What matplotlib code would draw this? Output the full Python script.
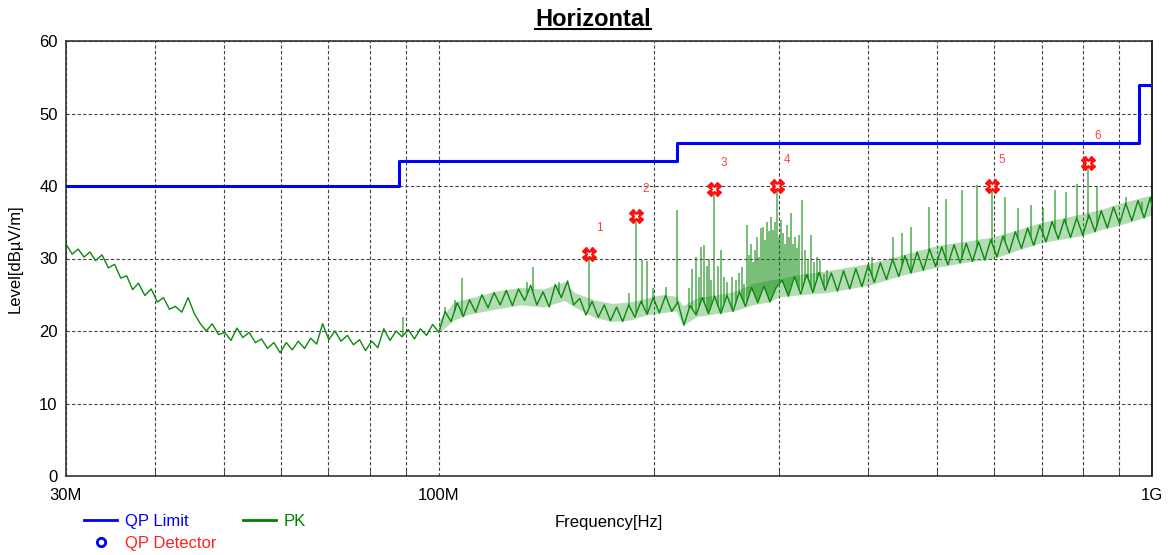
import numpy as np
import matplotlib
matplotlib.use("Agg")
import matplotlib.pyplot as plt
from matplotlib.lines import Line2D
from matplotlib.ticker import NullFormatter

plt.rcParams['font.family'] = ['Liberation Sans', 'DejaVu Sans']

# PK trace (MHz, dBuV/m), in three pieces
pk_freq_a = [30.0, 30.6, 31.2, 31.8, 32.4, 33.0, 33.7, 34.4, 35.1, 35.8,
             36.5, 37.2, 37.9, 38.7, 39.5, 40.3, 41.1, 41.9, 42.7, 43.6,
             44.5, 45.4, 46.3, 47.2, 48.1, 49.1, 50.1, 51.1, 52.1, 53.1,
             54.2, 55.3, 56.4, 57.5, 58.7, 59.9, 61.1, 62.3, 63.5, 64.8,
             66.1, 67.4, 68.7, 70.1, 71.5, 72.9, 74.4, 75.9, 77.4, 78.9,
             80.5, 82.1, 83.7, 85.4, 87.1, 88.8, 90.6, 92.4, 94.2, 96.1,
             98.0, 100.0]
pk_level_a = [32.0, 30.6, 31.3, 30.2, 30.9, 29.7, 30.5, 28.7, 29.2, 27.3,
              27.6, 25.7, 26.6, 24.9, 25.8, 24.0, 24.6, 23.0, 23.4, 22.6,
              24.6, 22.4, 21.0, 20.0, 21.0, 19.5, 19.8, 18.7, 20.4, 19.1,
              19.8, 18.4, 18.9, 17.6, 18.4, 17.0, 18.4, 17.4, 18.6, 17.6,
              19.0, 18.2, 21.0, 18.8, 20.0, 18.6, 19.4, 18.1, 18.8, 17.3,
              18.6, 17.7, 20.3, 18.7, 20.0, 19.2, 20.2, 18.9, 20.3, 19.4,
              20.9, 19.8]

pk_freq_b = [102.0, 104.0, 106.1, 108.2, 110.4, 112.6, 114.9, 117.2, 119.5, 121.9,
             124.3, 126.8, 129.3, 131.9, 134.5, 137.2, 140.0, 142.8, 145.6, 148.5,
             151.5, 154.5, 157.6, 160.8, 164.0, 167.3, 170.6, 174.0, 177.5, 181.0,
             184.6, 188.3, 192.1, 195.9, 199.8, 203.8, 207.9, 212.1, 216.3, 220.6,
             225.0, 229.5, 234.1, 238.8, 243.6, 248.5, 253.5, 258.6, 263.8, 269.1,
             274.5, 280.0, 285.6, 291.3, 297.1]
pk_level_b = [22.7, 21.3, 23.9, 22.0, 24.3, 22.6, 25.0, 23.2, 25.3, 23.6,
              25.6, 23.5, 25.8, 24.2, 26.3, 23.6, 25.4, 23.3, 26.4, 24.6,
              26.9, 23.6, 24.5, 22.2, 24.1, 21.9, 23.6, 21.4, 23.3, 21.3,
              23.6, 21.9, 24.1, 22.3, 24.6, 22.5, 24.9, 22.7, 24.0, 20.8,
              23.5, 22.2, 24.6, 22.4, 24.8, 22.4, 24.9, 22.7, 25.4, 23.4,
              26.0, 23.9, 26.2, 24.0, 26.0]

pk_freq_c = [303.0, 309.1, 315.3, 321.6, 328.0, 334.6, 341.3, 348.1, 355.1, 362.2,
             369.4, 376.8, 384.3, 392.0, 399.9, 407.9, 416.0, 424.3, 432.8, 441.5,
             450.3, 459.3, 468.5, 477.9, 487.5, 497.2, 507.2, 517.3, 527.7, 538.2,
             549.0, 560.0, 571.2, 582.6, 594.2, 606.1, 618.2, 630.6, 643.2, 656.1,
             669.2, 682.6, 696.2, 710.1, 724.3, 738.8, 753.6, 768.7, 784.1, 799.8,
             815.8, 832.1, 848.7, 865.7, 883.0, 900.7, 918.7, 937.1, 955.8, 974.9,
             994.4, 1000.0]
pk_level_c = [27.0, 24.8, 27.5, 25.1, 27.8, 25.3, 28.1, 25.6, 28.0, 25.5,
              28.3, 25.8, 28.6, 26.1, 29.1, 26.7, 29.4, 27.1, 29.9, 27.5,
              30.4, 28.0, 30.9, 28.4, 31.3, 28.9, 31.6, 29.1, 31.9, 29.4,
              32.1, 29.6, 32.3, 29.8, 32.6, 30.2, 33.1, 30.8, 33.7, 31.4,
              34.2, 31.8, 34.6, 32.3, 35.1, 32.7, 35.4, 32.9, 35.6, 33.2,
              36.0, 33.7, 36.6, 34.2, 37.1, 34.8, 37.6, 35.2, 38.0, 35.6,
              38.4, 37.2]

# spread of the noisy PK band above 100 MHz (lower / upper edge)
band_freq = [100, 105, 110, 120, 130, 140, 150, 155, 165, 175,
             185, 195, 205, 215, 220, 230, 245, 260, 275, 290,
             300, 320, 350, 400, 450, 500, 550, 600, 650, 700,
             750, 800, 850, 900, 950, 1000]
band_low = [19.8, 21.5, 22.3, 23.0, 23.6, 23.3, 24.2, 23.3, 21.9, 21.3,
            21.5, 22.2, 22.5, 22.8, 20.8, 22.0, 22.4, 22.8, 23.6, 24.0,
            24.7, 25.0, 25.3, 26.3, 27.8, 28.8, 29.5, 30.0, 31.2, 32.2,
            32.7, 33.2, 34.0, 34.6, 35.3, 36.0]
band_high = [21.5, 24.0, 24.5, 25.5, 26.0, 25.8, 26.8, 25.3, 24.3, 23.8,
             24.0, 24.5, 25.0, 24.8, 23.5, 24.6, 25.0, 25.5, 26.5, 27.0,
             27.2, 27.8, 28.3, 29.3, 30.6, 31.8, 32.4, 33.0, 34.0, 35.0,
             35.6, 36.2, 36.8, 37.6, 38.2, 38.8]

# narrow spikes on top of the trace (MHz, peak dBuV/m)
spike_freq = [89.0, 101.9, 105.2, 107.9, 133.1, 135.3, 147.6, 151.0, 162.6, 185.0,
              189.2, 192.9, 196.0, 199.8, 208.4, 215.9, 224.4, 226.6, 229.6, 231.8,
              233.3, 235.6, 237.9, 239.4, 241.0, 243.3, 246.5, 248.9, 251.3, 253.7,
              257.8, 261.2, 263.7, 266.3, 268.0, 270.6, 272.3, 274.1, 275.9, 277.7,
              279.5, 281.3, 283.1, 284.9, 286.8, 288.6, 290.5, 292.4, 294.3, 296.2,
              298.1, 300.0, 301.9, 303.9, 305.9, 307.9, 309.9, 311.9, 313.9, 315.9,
              317.9, 320.0, 323.2, 326.2, 329.4, 332.6, 335.8, 339.1, 342.4, 346.8,
              350.2, 405.0, 433.4, 446.2, 459.4, 486.8, 514.3, 541.5, 568.3, 596.5,
              621.9, 648.4, 676.2, 702.9, 730.7, 757.1, 784.4, 812.8, 836.6, 918.6,
              967.0]
spike_level = [21.9, 23.3, 24.3, 27.3, 26.8, 28.8, 26.8, 26.3, 30.6, 25.2,
               35.9, 29.8, 29.6, 26.0, 26.1, 36.7, 26.0, 28.5, 30.2, 27.5,
               31.6, 31.9, 29.0, 30.0, 27.0, 39.6, 29.0, 31.2, 27.5, 26.8,
               27.5, 27.0, 28.0, 28.8, 26.5, 34.6, 30.5, 32.0, 29.5, 31.2,
               33.0, 30.2, 34.2, 34.3, 32.5, 35.0, 33.8, 35.7, 34.0, 35.0,
               40.0, 33.0, 35.3, 33.5, 32.0, 34.6, 33.0, 36.3, 32.0, 33.0,
               31.5, 33.2, 38.1, 31.2, 30.0, 33.2, 29.5, 30.2, 29.8, 27.8,
               28.4, 30.2, 33.0, 33.5, 34.3, 37.1, 38.2, 39.4, 40.1, 40.0,
               38.5, 37.0, 37.4, 37.0, 39.4, 39.2, 40.3, 43.2, 40.0, 38.5,
               37.8]

# QP limit steps
limit_freq = [30, 88, 216, 960, 1000]
limit_level = [40, 43.5, 46, 54, 54]

# marked peaks
marker_freq = [162.6, 189.2, 243.3, 298.1, 596.5, 812.8]
marker_level = [30.6, 35.9, 39.6, 40.0, 40.0, 43.2]
marker_names = ['1', '2', '3', '4', '5', '6']

minor_freq = [40, 50, 60, 70, 80, 90, 200, 300, 400, 500, 600, 700, 800, 900]

pk_f = np.array(pk_freq_a + pk_freq_b + pk_freq_c) * 1e6
pk_l = np.array(pk_level_a + pk_level_b + pk_level_c)
sp_f = np.array(spike_freq) * 1e6
sp_base = np.interp(np.log10(sp_f), np.log10(pk_f), pk_l)

fig = plt.figure(figsize=(11.69, 5.55), dpi=100)
ax = fig.add_axes([66/1169, 1-476/555, (1152-66)/1169, (476-41)/555])

green = '#0a8a0a'
ax.fill_between(np.array(band_freq)*1e6, band_low, band_high, color='#45a845',
                alpha=0.4, lw=0, zorder=2)
ax.vlines(sp_f, sp_base, spike_level, colors=green, lw=1.3, alpha=0.6, zorder=2)
ax.plot(pk_f, pk_l, color=green, lw=1.0, zorder=3)
ax.step(np.array(limit_freq)*1e6, limit_level, where='post', color='#0000ff', lw=2.2, zorder=4)

mf = np.array(marker_freq)*1e6
ax.plot(mf, marker_level, ls='none', marker='X', ms=10, mfc='#ff1010', mec='#ff1010', zorder=5)
ax.plot(mf, marker_level, ls='none', marker='x', ms=3.5, mew=1.0, color='white', zorder=6)
for f, l, n in zip(mf, marker_level, marker_names):
    ax.annotate(n, (f, l), xytext=(7, 19), textcoords='offset points',
                color='#ff4040', fontsize=8.5, ha='center', va='center')

ax.set_xscale('log')
ax.set_xlim(30e6, 1e9)
ax.set_ylim(0, 60)
ax.set_xticks([30e6, 100e6, 1e9], ['30M', '100M', '1G'])
ax.set_xticks(np.array(minor_freq)*1e6, minor=True)
ax.xaxis.set_minor_formatter(NullFormatter())
ax.set_yticks(range(0, 61, 10))

grid_kw = dict(color='#444444', lw=0.8, ls=(0, (3, 2)))
ax.grid(axis='x', which='both', **grid_kw)
ax.grid(axis='y', which='major', **grid_kw)
ax.set_axisbelow(True)

ax.tick_params(axis='both', which='both', direction='in', labelsize=12, color='#333333')
ax.tick_params(axis='x', which='major', length=0, pad=9)
ax.tick_params(axis='x', which='minor', length=5)
ax.tick_params(axis='y', length=0, pad=6)
for s in ax.spines.values():
    s.set_color('#333333')
    s.set_linewidth(1.2)
ax.spines['right'].set_color('black')

ax.set_xlabel('Frequency[Hz]', fontsize=12, labelpad=8)
ax.set_ylabel('Level[dBµV/m]', fontsize=12, labelpad=12)

title = fig.text(593/1169, 1-26/555, 'Horizontal', ha='center', va='baseline',
                 fontsize=17, fontweight='bold')

handles = [Line2D([], [], color='#0000ff', lw=2),
           Line2D([], [], ls='none', marker='o', ms=6, mfc='none', mec='#0000ff', mew=2),
           Line2D([], [], color='#008000', lw=2)]
leg = fig.legend(handles, ['QP Limit', 'QP Detector', 'PK'], ncol=2, loc='upper left',
                 bbox_to_anchor=(84/1169, 1-514/555), frameon=False, fontsize=12,
                 handlelength=2.0, handletextpad=0.45, columnspacing=1.6,
                 labelspacing=0.4, borderpad=0, borderaxespad=0)
for txt, c in zip(leg.get_texts(), ['#0000ff', '#ff2020', '#008000']):
    txt.set_color(c)

fig.canvas.draw()
bb = title.get_window_extent().transformed(fig.transFigure.inverted())
fig.add_artist(Line2D([bb.x0, bb.x1], [1-28.5/555, 1-28.5/555], color='black', lw=1.5))

fig.savefig('out.png', dpi=100)
